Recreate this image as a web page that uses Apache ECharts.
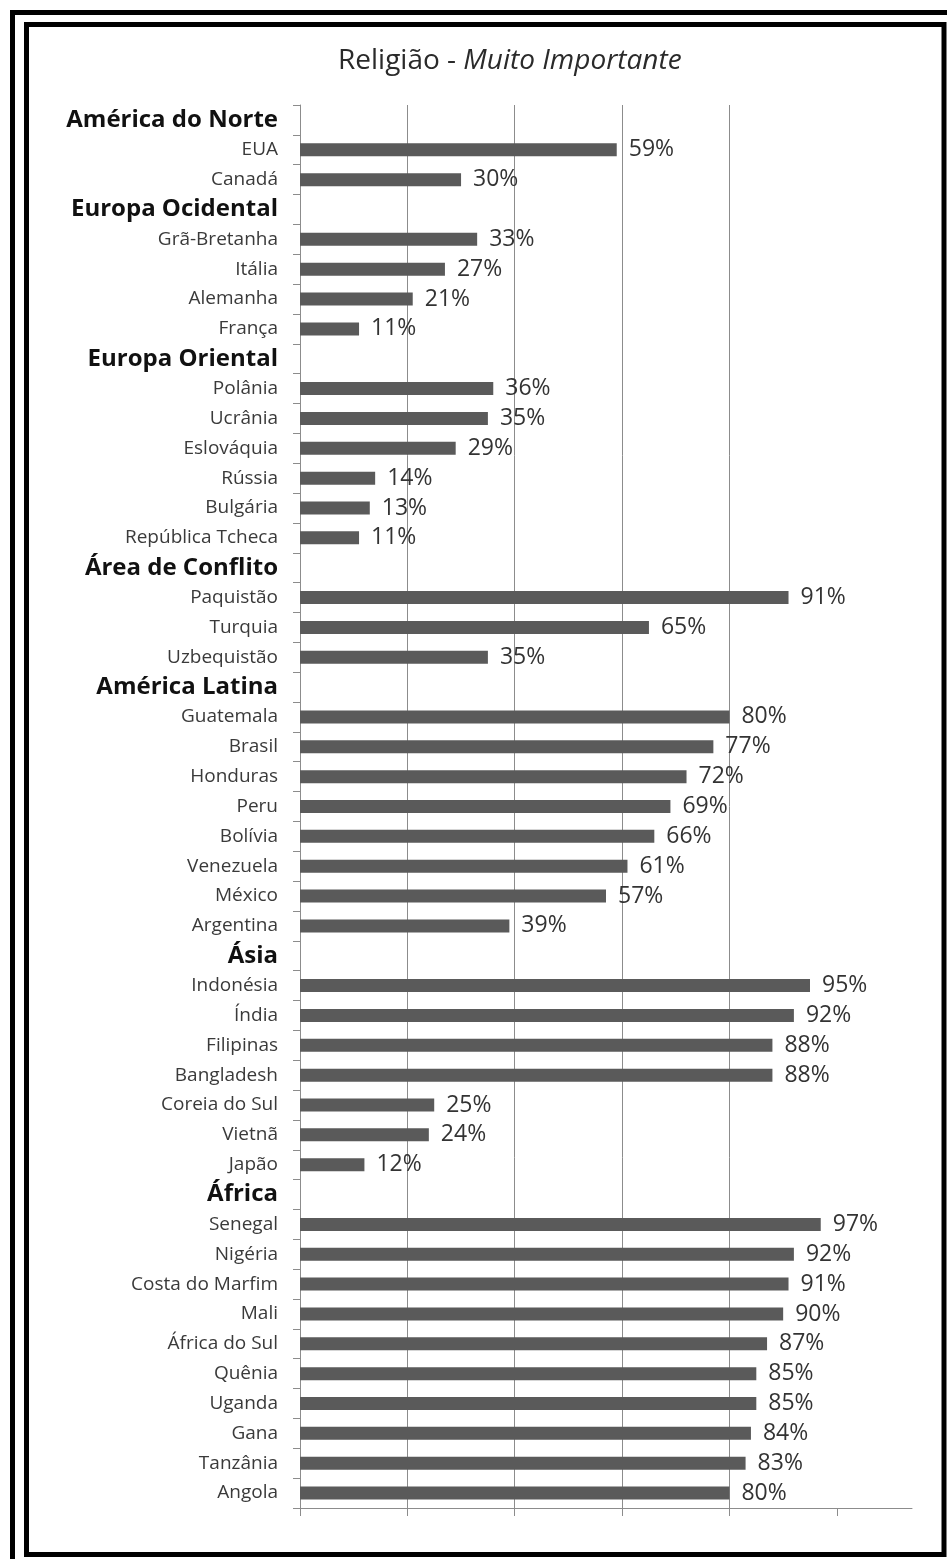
<!DOCTYPE html>
<html>
<head>
<meta charset="utf-8">
<script src="https://cdn.jsdelivr.net/npm/echarts@6/dist/echarts.min.js"></script>
<style>
  html, body { margin: 0; padding: 0; background: #fff; }
  #chart { width: 947px; height: 1559px; }
</style>
</head>
<body>
<div id="chart"></div>
<script>
var chart = echarts.init(document.getElementById('chart'));

// group headers (no bar)
var headers = ['América do Norte', 'Europa Ocidental', 'Europa Oriental', 'Área de Conflito',
  'América Latina', 'Ásia', 'África'];

var categories = [
  'América do Norte', 'EUA', 'Canadá',
  'Europa Ocidental', 'Grã-Bretanha', 'Itália', 'Alemanha', 'França',
  'Europa Oriental', 'Polânia', 'Ucrânia', 'Eslováquia', 'Rússia', 'Bulgária', 'República Tcheca',
  'Área de Conflito', 'Paquistão', 'Turquia', 'Uzbequistão',
  'América Latina', 'Guatemala', 'Brasil', 'Honduras', 'Peru', 'Bolívia', 'Venezuela', 'México', 'Argentina',
  'Ásia', 'Indonésia', 'Índia', 'Filipinas', 'Bangladesh', 'Coreia do Sul', 'Vietnã', 'Japão',
  'África', 'Senegal', 'Nigéria', 'Costa do Marfim', 'Mali', 'África do Sul', 'Quênia', 'Uganda', 'Gana', 'Tanzânia', 'Angola'
];

var values = [
  null, 59, 30,
  null, 33, 27, 21, 11,
  null, 36, 35, 29, 14, 13, 11,
  null, 91, 65, 35,
  null, 80, 77, 72, 69, 66, 61, 57, 39,
  null, 95, 92, 88, 88, 25, 24, 12,
  null, 97, 92, 91, 90, 87, 85, 85, 84, 83, 80
];

var xTicks = [0, 20, 40, 60, 80, 100];

var option = {
  backgroundColor: '#fff',
  animation: false,
  title: {
    text: '{a|Religião - }{b|Muito Importante}',
    left: 333,
    top: 42,
    textStyle: {
      fontWeight: 'normal',
      rich: {
        a: { fontFamily: 'Open Sans', fontSize: 28, fontWeight: 'normal', color: '#2a2a2a' },
        b: { fontFamily: 'Open Sans', fontSize: 28, fontWeight: 'normal', fontStyle: 'italic', color: '#2a2a2a' }
      }
    }
  },
  grid: {
    left: 300,
    top: 105,
    right: 35,
    bottom: 51
  },
  xAxis: {
    type: 'value',
    min: 0,
    max: 114,
    interval: 20,
    axisLine: { show: true, lineStyle: { color: '#8c8c8c', width: 1 } },
    axisTick: { show: true, length: 8, customValues: xTicks, lineStyle: { color: '#8c8c8c' } },
    axisLabel: { show: false },
    splitLine: { show: true, showMaxLine: false, lineStyle: { color: '#8c8c8c', width: 1 } }
  },
  yAxis: {
    type: 'category',
    inverse: true,
    data: categories,
    axisLine: { show: true, lineStyle: { color: '#8c8c8c', width: 1 } },
    axisTick: { show: true, length: 7, lineStyle: { color: '#8c8c8c' } },
    axisLabel: {
      margin: 22,
      formatter: function (v) {
        return headers.indexOf(v) >= 0 ? '{h|' + v + '}' : '{n|' + v + '}';
      },
      rich: {
        h: { fontFamily: 'Open Sans', fontSize: 24, fontWeight: 'bold', color: '#111' },
        n: { fontFamily: 'Open Sans', fontSize: 19, color: '#3a3a3a' }
      }
    },
    splitLine: { show: false }
  },
  series: [{
    type: 'bar',
    data: values,
    barWidth: 13,
    itemStyle: { color: '#5a5a5a' },
    label: {
      show: true,
      position: 'right',
      distance: 12,
      formatter: '{c}%',
      fontFamily: 'Open Sans',
      fontSize: 23,
      color: '#333'
    }
  }],
  graphic: [
    {
      type: 'rect',
      shape: { x: 12.5, y: 12.5, width: 1000, height: 1600 },
      style: { fill: 'none', stroke: '#000', lineWidth: 5 }
    },
    {
      type: 'rect',
      shape: { x: 26.5, y: 24.5, width: 917.5, height: 1530 },
      style: { fill: 'none', stroke: '#000', lineWidth: 5 }
    }
  ]
};

chart.setOption(option);
</script>
</body>
</html>
